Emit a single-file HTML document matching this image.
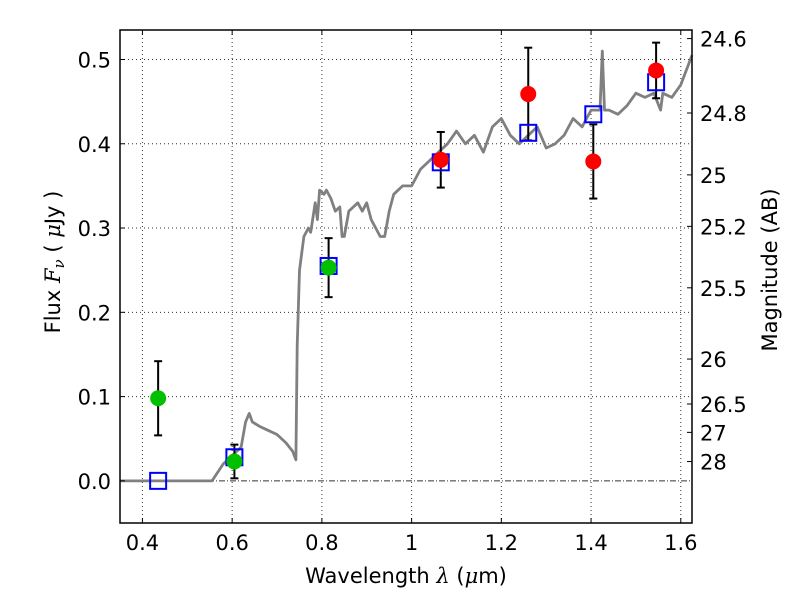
<!DOCTYPE html>
<html><head><meta charset="utf-8"><style>
body{margin:0;background:#fff;}
svg text{font-family:"DejaVu Sans","Liberation Sans",sans-serif;}
</style></head><body>
<svg id="chart" width="800" height="600" xmlns="http://www.w3.org/2000/svg">
<g id="grid"></g>
<g id="spec"></g>
<g id="marks"></g>
<g id="axes"></g>
</svg>
<script>
const specX=[0.35,0.555,0.58,0.60,0.62,0.63,0.638,0.645,0.66,0.68,0.70,0.72,0.735,0.742,0.745,0.75,0.76,0.77,0.775,0.785,0.79,0.795,0.805,0.81,0.82,0.83,0.84,0.845,0.85,0.86,0.87,0.88,0.89,0.9,0.91,0.92,0.93,0.94,0.95,0.96,0.98,1.0,1.01,1.02,1.04,1.06,1.08,1.10,1.12,1.14,1.16,1.18,1.2,1.22,1.24,1.26,1.28,1.30,1.32,1.34,1.36,1.38,1.40,1.42,1.425,1.43,1.44,1.46,1.48,1.50,1.52,1.54,1.555,1.56,1.58,1.60,1.625];
const specY=[0,0,0.02,0.03,0.04,0.07,0.08,0.07,0.065,0.06,0.055,0.045,0.035,0.025,0.16,0.25,0.29,0.30,0.295,0.33,0.31,0.345,0.34,0.345,0.335,0.32,0.325,0.29,0.29,0.32,0.325,0.33,0.32,0.33,0.31,0.30,0.29,0.29,0.32,0.34,0.35,0.35,0.36,0.37,0.38,0.39,0.40,0.415,0.40,0.41,0.39,0.42,0.43,0.41,0.40,0.41,0.42,0.395,0.40,0.41,0.43,0.42,0.44,0.44,0.51,0.44,0.44,0.435,0.445,0.46,0.455,0.46,0.44,0.46,0.455,0.47,0.505];
const greenX=[0.435,0.605,0.815];
const greenY=[0.098,0.023,0.253];
const greenErr=[0.044,0.02,0.035];
const redX=[1.065,1.26,1.405,1.545];
const redY=[0.381,0.459,0.379,0.487];
const redErr=[0.033,0.055,0.044,0.033];
const boxX=[0.435,0.605,0.815,1.065,1.26,1.405,1.545];
const boxY=[0.0,0.028,0.255,0.378,0.413,0.435,0.473];
const xTicks=[0.4,0.6,0.8,1.0,1.2,1.4,1.6];
const xTickLabels=["0.4","0.6","0.8","1","1.2","1.4","1.6"];
const yTicks=[0,0.1,0.2,0.3,0.4,0.5];
const yTickLabels=["0.0","0.1","0.2","0.3","0.4","0.5"];
const magTicks=[24.6,24.8,25,25.2,25.5,26,26.5,27,28];

const L=120,R=692,T=30,B=523;
const xmin=0.35,xmax=1.625,ymin=-0.05,ymax=0.535;
const X=v=>L+(v-xmin)/(xmax-xmin)*(R-L);
const Y=v=>B-(v-ymin)/(ymax-ymin)*(B-T);
const NS="http://www.w3.org/2000/svg";
function mk(tag,attrs,parent,txt){const e=document.createElementNS(NS,tag);for(const k in attrs)e.setAttribute(k,attrs[k]);if(txt!==undefined)e.textContent=txt;parent.appendChild(e);return e;}
const grid=document.getElementById('grid'),spec=document.getElementById('spec'),marks=document.getElementById('marks'),axes=document.getElementById('axes');

xTicks.forEach(t=>{const l=mk('line',{x1:X(t),x2:X(t),y1:T,y2:B,stroke:'#333','stroke-width':1,'stroke-dasharray':'1,3'},grid);

});
yTicks.forEach(t=>{const l=mk('line',{x1:L,x2:R,y1:Y(t),y2:Y(t),stroke:'#333','stroke-width':1,'stroke-dasharray':t===0?'6,2,1,2':'1,3'},grid);

});

const pts=specX.map((x,i)=>X(x).toFixed(1)+','+Y(specY[i]).toFixed(1)).join(' ');
const pl=mk('polyline',{points:pts,fill:'none',stroke:'#808080','stroke-width':2.8,'stroke-linejoin':'round'},spec);



function errbar(x,y,e){const g=mk('g',{},marks);


mk('line',{x1:X(x),x2:X(x),y1:Y(y+e),y2:Y(y-e),stroke:'#000','stroke-width':2},g);
mk('line',{x1:X(x)-4,x2:X(x)+4,y1:Y(y+e),y2:Y(y+e),stroke:'#000','stroke-width':2},g);
mk('line',{x1:X(x)-4,x2:X(x)+4,y1:Y(y-e),y2:Y(y-e),stroke:'#000','stroke-width':2},g);}
greenX.forEach((x,i)=>errbar(x,greenY[i],greenErr[i]));
redX.forEach((x,i)=>errbar(x,redY[i],redErr[i]));
boxX.forEach((x,i)=>{const r=mk('rect',{x:X(x)-8,y:Y(boxY[i])-8,width:16,height:16,fill:'none',stroke:'#0000ff','stroke-width':2},marks);

});
greenX.forEach((x,i)=>{const c=mk('circle',{cx:X(x),cy:Y(greenY[i]),r:8,fill:'#00c000'},marks);

});
redX.forEach((x,i)=>{const c=mk('circle',{cx:X(x),cy:Y(redY[i]),r:8,fill:'#ff0000'},marks);

});

const fr=mk('rect',{x:L,y:T,width:R-L,height:B-T,fill:'none',stroke:'#000','stroke-width':1.5},axes);


xTicks.forEach((t,i)=>{mk('line',{x1:X(t),x2:X(t),y1:B,y2:B-5,stroke:'#000'},axes);mk('line',{x1:X(t),x2:X(t),y1:T,y2:T+5,stroke:'#000'},axes);
const tx=mk('text',{x:X(t),y:B+27,'font-size':21,'text-anchor':'middle'},axes,xTickLabels[i]);

});
yTicks.forEach((t,i)=>{mk('line',{x1:L,x2:L+5,y1:Y(t),y2:Y(t),stroke:'#000'},axes);
const tx=mk('text',{x:L-9,y:Y(t)+8,'font-size':21,'text-anchor':'end'},axes,yTickLabels[i]);

});
magTicks.forEach(m=>{const f=Math.pow(10,-0.4*(m-23.9));const y=Y(f);
mk('line',{x1:R,x2:R-5,y1:y,y2:y,stroke:'#000'},axes);
const tx=mk('text',{x:R+8,y:y+8,'font-size':21},axes,String(m));

});
</script>
<svg style="position:absolute;left:0;top:0" width="800" height="600" xmlns="http://www.w3.org/2000/svg">
<text x="406" y="583" font-size="21" text-anchor="middle" font-family="DejaVu Sans, sans-serif">Wavelength  <tspan font-style="italic" font-family="DejaVu Serif, serif">λ</tspan> (<tspan font-style="italic" font-family="DejaVu Serif, serif">μ</tspan>m)</text>
<text transform="translate(60,262) rotate(-90)" font-size="21" text-anchor="middle" font-family="DejaVu Sans, sans-serif">Flux  <tspan font-style="italic" font-family="DejaVu Serif, serif">F<tspan font-size="15" dy="4">ν</tspan></tspan><tspan dy="-4">  ( </tspan><tspan font-style="italic" font-family="DejaVu Serif, serif">μ</tspan>Jy )</text>
<text transform="translate(777,270) rotate(-90)" font-size="21" text-anchor="middle" font-family="DejaVu Sans, sans-serif">Magnitude (AB)</text>
</svg>
</body></html>
